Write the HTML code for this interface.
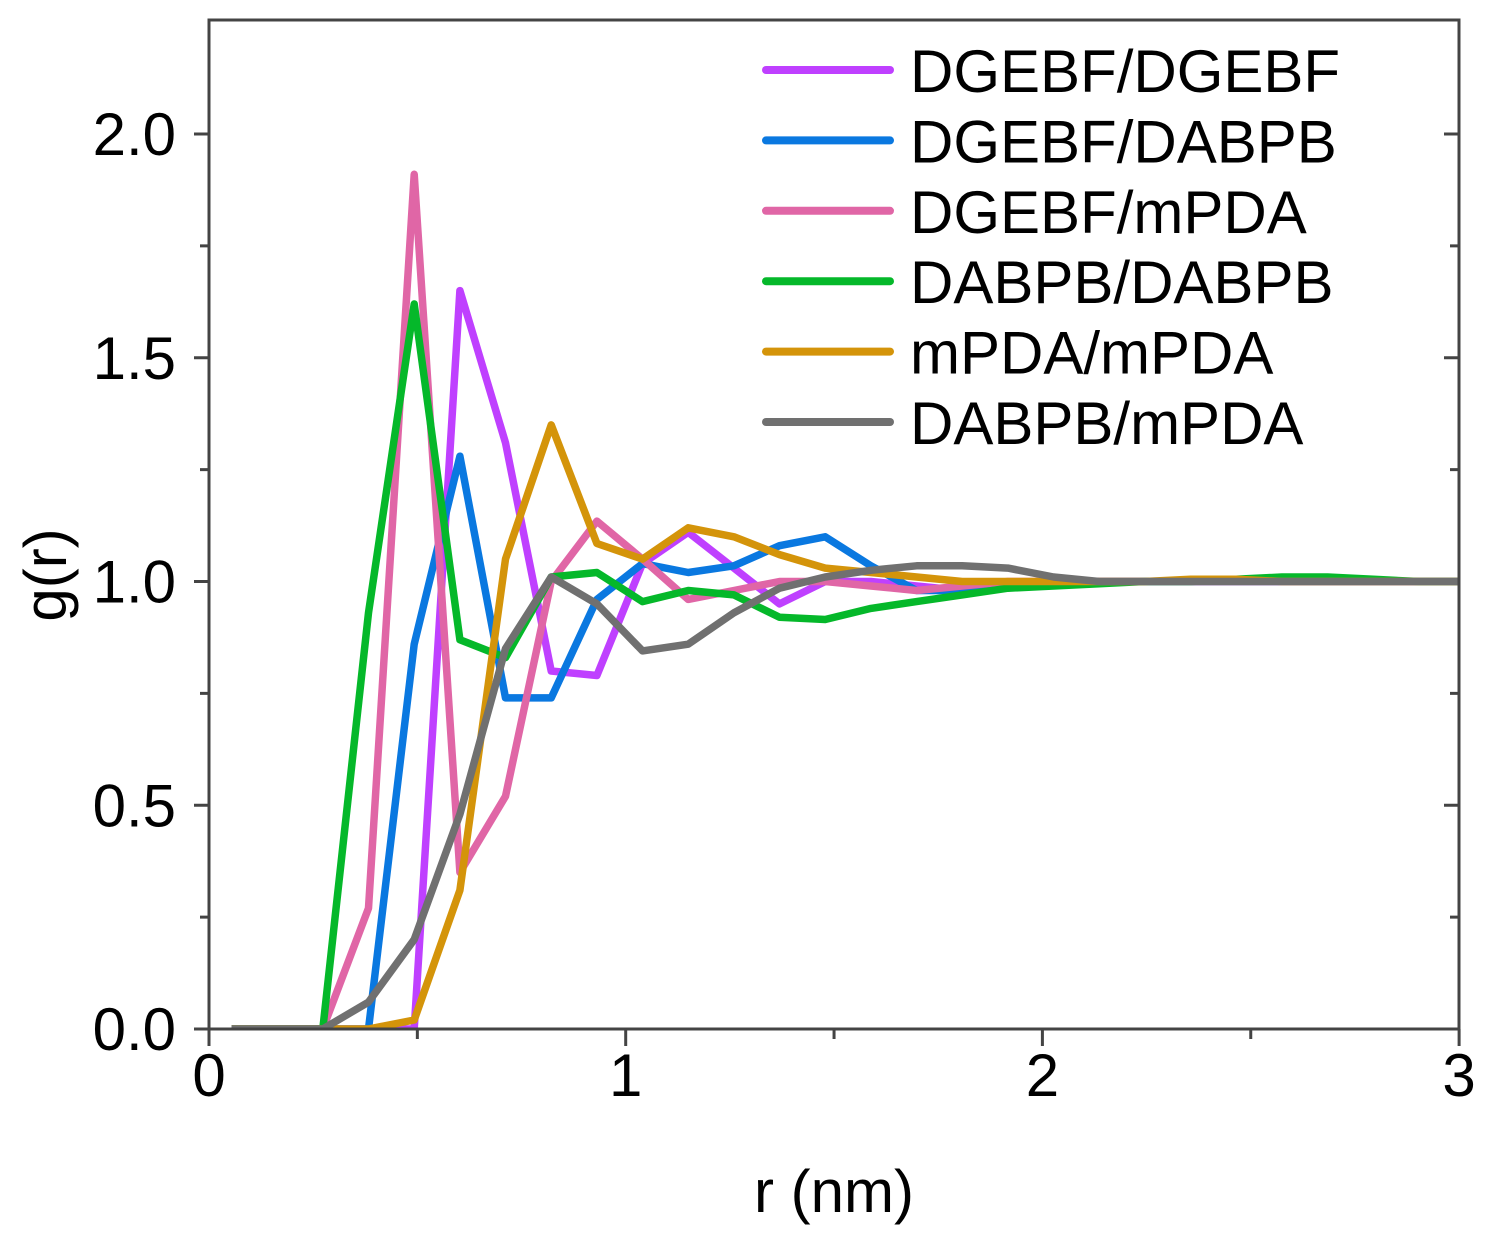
<!DOCTYPE html>
<html><head><meta charset="utf-8"><style>
body{margin:0;background:#fff;}
svg{display:block;font-family:"Liberation Sans",Arial,sans-serif;}
</style></head><body>
<svg id="chart" width="1489" height="1240" viewBox="0 0 1489 1240" xmlns="http://www.w3.org/2000/svg">
<defs><clipPath id="clip"><rect x="209" y="20" width="1250" height="1009"/></clipPath></defs>
<g id="ticks"></g>
<g id="series" clip-path="url(#clip)"></g>
<rect x="209" y="20" width="1250" height="1009" fill="none" stroke="#444" stroke-width="3"/>
<g id="legend"></g>
<text x="834" y="1212" font-size="60" text-anchor="middle">r (nm)</text>
<text x="66" y="575" font-size="60" text-anchor="middle" transform="rotate(-90 66 575)">g(r)</text>
</svg>
<script>
const rStart = 0.054, rStep = 0.1096;
const seriesNames = ["DGEBF/DGEBF","DGEBF/DABPB","DGEBF/mPDA","DABPB/DABPB","mPDA/mPDA","DABPB/mPDA"];
const seriesColors = ["#bf40ff","#0a78e0","#e066a6","#05b82a","#d4940a","#707070"];
const gPurple = [0,0,0,0,0,1.65,1.31,0.80,0.79,1.04,1.11,1.03,0.95,1.0,1.0,0.99,0.98,0.99,1.0,1.0,1.0,1.0,1.0,1.0,1.0,1.0,1.0,1.0];
const gBlue   = [0,0,0,0,0.86,1.28,0.74,0.74,0.96,1.04,1.02,1.035,1.08,1.10,1.035,0.98,0.98,0.99,1.0,1.0,1.0,1.0,1.0,1.0,1.0,1.0,1.0,1.0];
const gPink   = [0,0,0,0.27,1.91,0.35,0.52,1.0,1.135,1.05,0.96,0.98,1.0,1.0,0.99,0.98,0.99,1.0,1.0,1.0,1.0,1.0,1.0,1.0,1.0,1.0,1.0,1.0];
const gGreen  = [0,0,0,0.93,1.62,0.87,0.83,1.01,1.02,0.955,0.98,0.97,0.92,0.915,0.94,0.955,0.97,0.985,0.99,0.995,1.0,1.0,1.005,1.01,1.01,1.005,1.0,1.0];
const gOrange = [0,0,0,0,0.02,0.31,1.05,1.35,1.085,1.05,1.12,1.10,1.06,1.03,1.02,1.01,1.0,1.0,1.0,1.0,1.0,1.005,1.005,1.0,1.0,1.0,1.0,1.0];
const gGray   = [0,0,0,0.06,0.2,0.48,0.85,1.01,0.95,0.845,0.86,0.93,0.985,1.01,1.025,1.035,1.035,1.03,1.01,1.0,1.0,1.0,1.0,1.0,1.0,1.0,1.0,1.0];
const xTicks = [0,1,2,3];
const yTicks = [0,0.5,1.0,1.5,2.0];
const yTickLabels = ["0.0","0.5","1.0","1.5","2.0"];
const NS="http://www.w3.org/2000/svg";
const X = r => 209 + r*416.7;
const Y = g => 1029 - g*447.5;
const allSeries=[gPurple,gBlue,gPink,gGreen,gOrange,gGray];
const tk=document.getElementById('ticks');
function ln(p,x1,y1,x2,y2,w){const l=document.createElementNS(NS,'line');l.setAttribute('x1',x1);l.setAttribute('y1',y1);l.setAttribute('x2',x2);l.setAttribute('y2',y2);l.setAttribute('stroke','#444');l.setAttribute('stroke-width',w||3);p.appendChild(l);return l;}
yTicks.forEach((v,i)=>{
  const t=ln(tk,194,Y(v),209,Y(v));
  
  
  ln(tk,1444,Y(v),1459,Y(v));
  const tx=document.createElementNS(NS,'text');
  tx.setAttribute('x',176);tx.setAttribute('y',Y(v)+21);tx.setAttribute('font-size','60');tx.setAttribute('text-anchor','end');
  tx.textContent=yTickLabels[i];
  
  
  tk.appendChild(tx);
  if(v<2){ln(tk,200,Y(v+0.25),209,Y(v+0.25));ln(tk,1450,Y(v+0.25),1459,Y(v+0.25));}
});
xTicks.forEach(v=>{
  const t=ln(tk,X(v),1029,X(v),1046);
  
  
  if(v<3) ln(tk,X(v+0.5),1029,X(v+0.5),1039);
  const tx=document.createElementNS(NS,'text');
  tx.setAttribute('x',X(v));tx.setAttribute('y',1096);tx.setAttribute('font-size','60');tx.setAttribute('text-anchor','middle');
  tx.textContent=String(v);
  
  
  tk.appendChild(tx);
});
const sg=document.getElementById('series');
allSeries.forEach((arr,si)=>{
  const p=document.createElementNS(NS,'polyline');
  p.setAttribute('points',arr.map((g,k)=>X(rStart+rStep*k).toFixed(1)+','+Y(g).toFixed(1)).join(' '));
  p.setAttribute('fill','none');p.setAttribute('stroke',seriesColors[si]);p.setAttribute('stroke-width','7.5');p.setAttribute('stroke-linejoin','round');
  
  
  sg.appendChild(p);
});
const lg=document.getElementById('legend');
seriesNames.forEach((n,i)=>{
  const y=70+i*70.4;
  const l=document.createElementNS(NS,'line');
  l.setAttribute('x1',766);l.setAttribute('x2',890);l.setAttribute('y1',y);l.setAttribute('y2',y);
  l.setAttribute('stroke',seriesColors[i]);l.setAttribute('stroke-width','8');l.setAttribute('stroke-linecap','round');
  
  
  lg.appendChild(l);
  const t=document.createElementNS(NS,'text');
  t.setAttribute('x',910);t.setAttribute('y',y+22);t.setAttribute('font-size','60');
  t.textContent=n;
  
  
  lg.appendChild(t);
});
</script>
</body></html>
